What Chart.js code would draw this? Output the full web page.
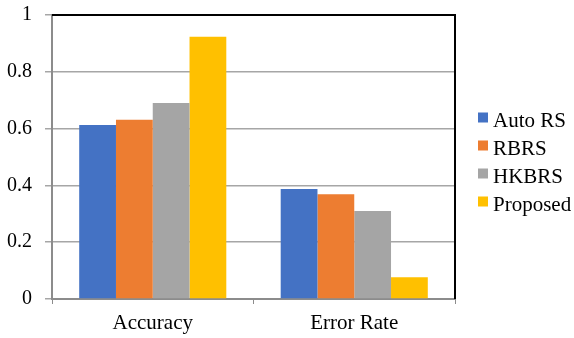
<!DOCTYPE html>
<html>
<head>
<meta charset="utf-8">
<script src="https://cdn.jsdelivr.net/npm/chart.js@4/dist/chart.umd.min.js"></script>
<style>
  html, body { margin: 0; padding: 0; background: #ffffff; }
  #wrap { width: 574px; height: 338px; }
</style>
</head>
<body>
<div id="wrap"><canvas id="chart" width="574" height="338"></canvas></div>
<script>
// Metric categories along the x axis
const categories = ['Accuracy', 'Error Rate'];

// Scores per method
const autoRS   = [0.613, 0.387];
const rbrs     = [0.631, 0.369];
const hkbrs    = [0.690, 0.310];
const proposed = [0.923, 0.077];

const seriesNames = ['Auto RS', 'RBRS', 'HKBRS', 'Proposed'];
const seriesColors = ['#4472C4', '#ED7D31', '#A5A5A5', '#FFC000'];
const seriesValues = [autoRS, rbrs, hkbrs, proposed];

const serif = "'Liberation Serif', 'Times New Roman', serif";

// Black frame on the top and right edges of the plot area
const frame = {
  id: 'frame',
  afterDatasetsDraw(chart) {
    const { ctx, chartArea: a } = chart;
    ctx.save();
    ctx.strokeStyle = '#000000';
    ctx.lineWidth = 2;
    ctx.beginPath();
    ctx.moveTo(a.left, a.top);
    ctx.lineTo(a.right, a.top);
    ctx.lineTo(a.right, a.bottom);
    ctx.stroke();
    ctx.restore();
  }
};

// Legend column to the right of the plot: square swatch + series name
const sideLegend = {
  id: 'sideLegend',
  afterDraw(chart, args, opts) {
    const { ctx } = chart;
    ctx.save();
    ctx.font = `${opts.fontSize}px ${serif}`;
    ctx.textBaseline = 'alphabetic';
    ctx.textAlign = 'left';
    chart.data.datasets.forEach((ds, i) => {
      const base = opts.y + i * opts.step;
      ctx.fillStyle = ds.backgroundColor;
      ctx.fillRect(opts.x, base - opts.box - 4.5, opts.box, opts.box);
      ctx.fillStyle = '#000000';
      ctx.fillText(ds.label, opts.x + opts.box + 5, base);
    });
    ctx.restore();
  }
};

new Chart(document.getElementById('chart'), {
  type: 'bar',
  data: {
    labels: categories,
    datasets: seriesNames.map((name, i) => ({
      label: name,
      data: seriesValues[i],
      backgroundColor: seriesColors[i],
      borderWidth: 0,
      categoryPercentage: 0.73,
      barPercentage: 1.0
    }))
  },
  options: {
    responsive: false,
    animation: false,
    layout: { padding: { left: 7, top: 15, right: 119, bottom: 3 } },
    plugins: {
      tooltip: { enabled: false },
      legend: { display: false },
      sideLegend: { x: 478, y: 127, step: 28, box: 10, fontSize: 21 }
    },
    scales: {
      x: {
        afterFit: (scale) => {
          scale.height = 36;
          scale.paddingLeft = 0;
          scale.paddingRight = 0;
        },
        grid: {
          offset: true,
          drawOnChartArea: false,
          drawTicks: true,
          tickLength: 5,
          color: '#8c8c8c'
        },
        border: { color: '#8c8c8c', width: 2 },
        ticks: {
          color: '#000000',
          padding: 7,
          font: { family: serif, size: 21 }
        }
      },
      y: {
        min: 0,
        max: 1,
        afterFit: (scale) => {
          scale.width = 45;
          scale.paddingTop = 0;
          scale.paddingBottom = 0;
        },
        ticks: {
          stepSize: 0.2,
          color: '#000000',
          padding: 13,
          font: { family: serif, size: 20 },
          callback: (v) => String(Number(v.toFixed(1)))
        },
        grid: {
          color: '#a6a6a6',
          lineWidth: 1.5,
          tickLength: 7,
          drawTicks: true
        },
        border: { color: '#8c8c8c', width: 2 }
      }
    }
  },
  plugins: [frame, sideLegend]
});
</script>
</body>
</html>
